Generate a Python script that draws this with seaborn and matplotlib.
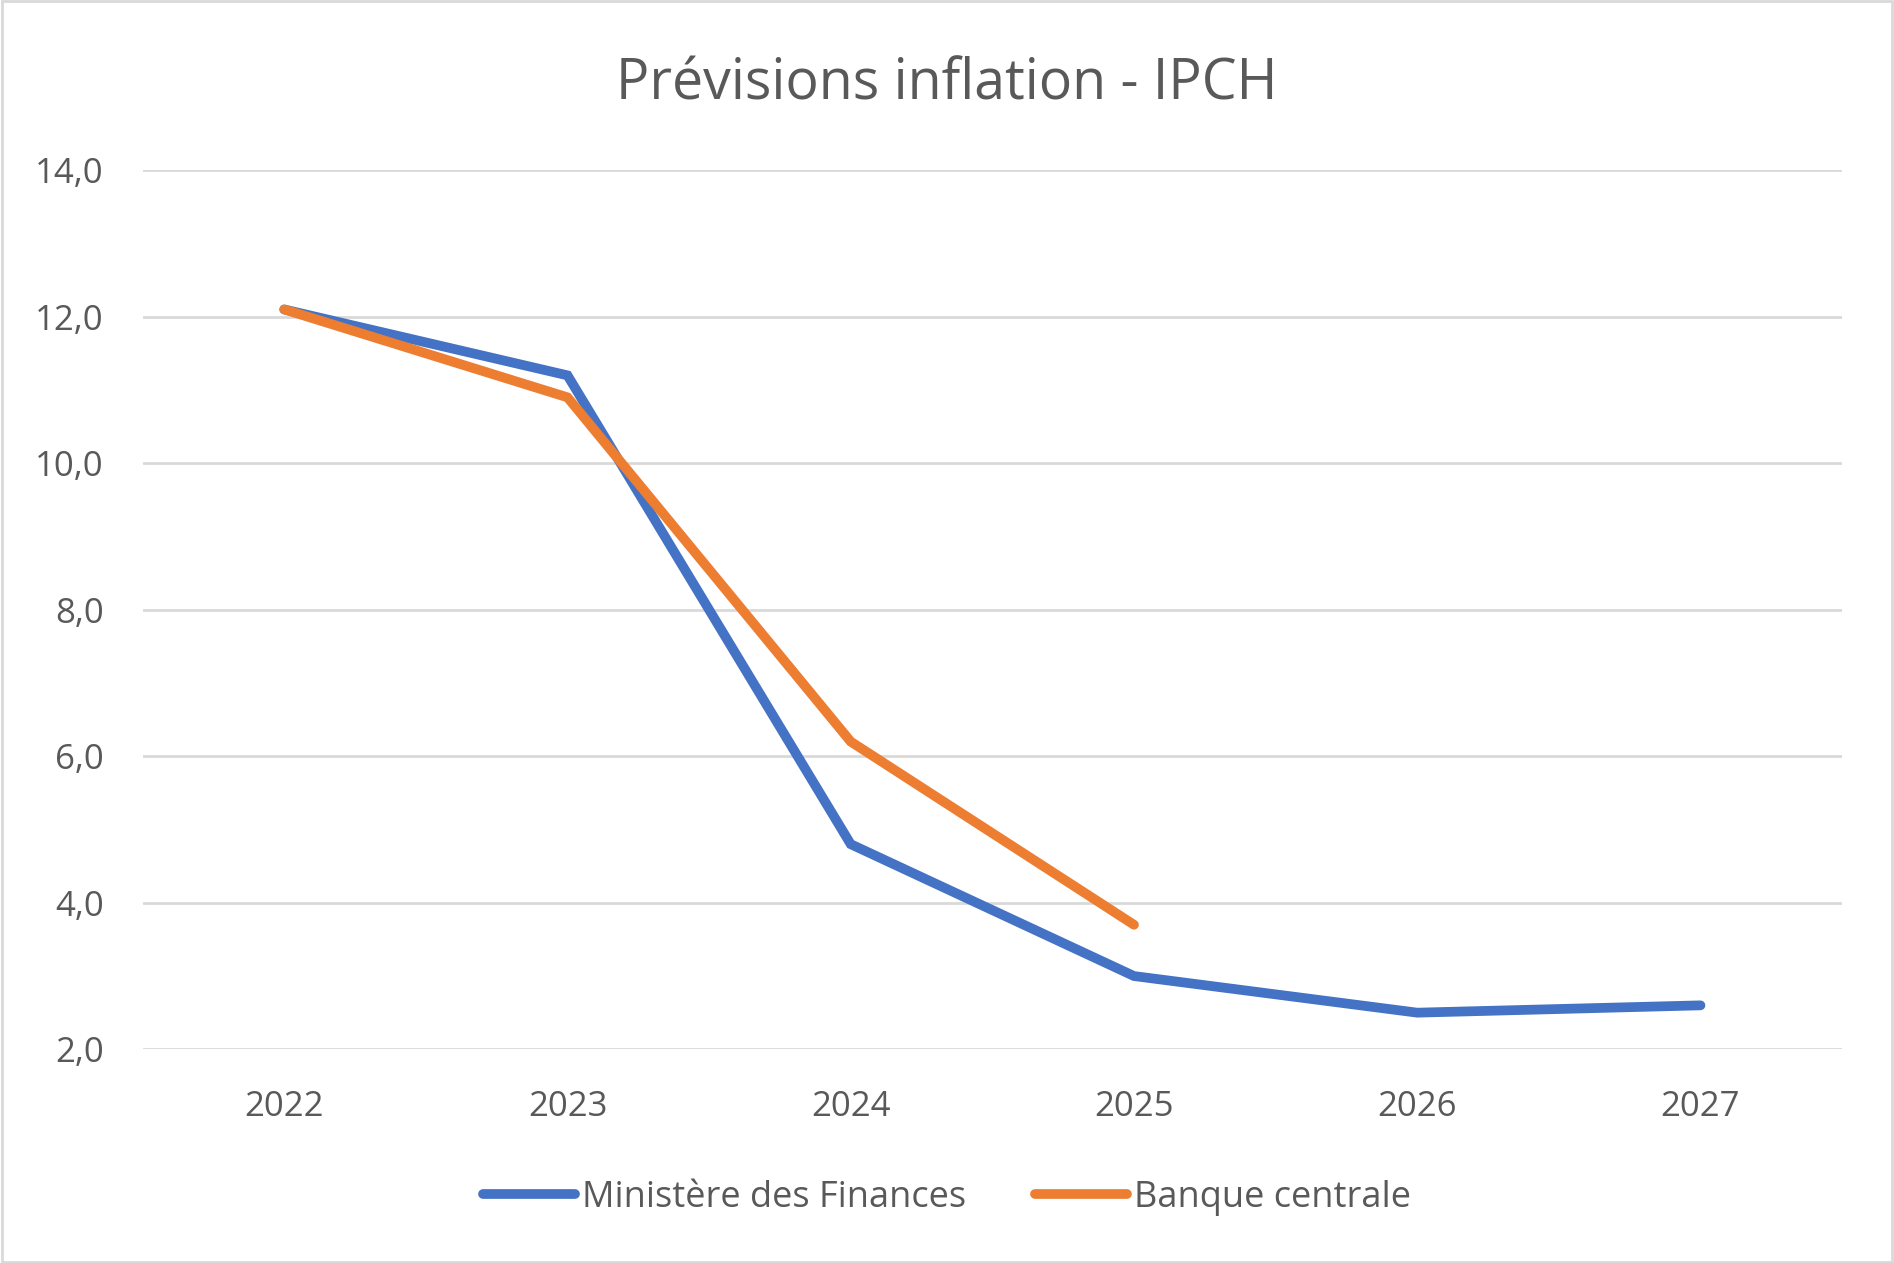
import numpy as np
import pandas as pd
import matplotlib.pyplot as plt
import seaborn as sns
from matplotlib.ticker import FuncFormatter

years = [2022, 2023, 2024, 2025, 2026, 2027]
ministere = [12.1, 11.2, 4.8, 3.0, 2.5, 2.6]
banque_years = [2022, 2023, 2024, 2025]
banque = [12.1, 10.9, 6.2, 3.7]
series_names = ["Ministère des Finances", "Banque centrale"]
colors = ["#4472C4", "#ED7D31"]


def main() -> None:
    df = pd.concat([
        pd.DataFrame({"annee": years, "valeur": ministere, "serie": series_names[0]}),
        pd.DataFrame({"annee": banque_years, "valeur": banque, "serie": series_names[1]}),
    ], ignore_index=True)

    sns.set_theme(style="white")
    plt.rcParams["font.family"] = ["Open Sans", "DejaVu Sans"]
    text_col = "#595959"

    fig = plt.figure(figsize=(18.94, 12.63), dpi=100)
    ax = fig.add_axes([0.0753, 0.1692, 0.8973, 0.696])

    sns.lineplot(
        data=df, x="annee", y="valeur", hue="serie",
        palette=dict(zip(series_names, colors)),
        linewidth=7, ax=ax, solid_capstyle="round", solid_joinstyle="miter",
        legend=True,
    )

    ax.set_xlim(2021.5, 2027.5)
    ax.set_ylim(2, 14)
    ax.set_yticks(np.arange(2, 15, 2))
    ax.set_xticks(years)
    ax.yaxis.set_major_formatter(FuncFormatter(lambda v, p: f"{v:.1f}".replace(".", ",")))
    ax.grid(axis="y", color="#D9D9D9", linewidth=2)
    ax.set_axisbelow(True)
    for s in ax.spines.values():
        s.set_visible(False)
    ax.tick_params(axis="both", length=0, labelsize=25, colors=text_col)
    ax.tick_params(axis="y", pad=28)
    ax.tick_params(axis="x", pad=29)
    ax.set_xlabel("")
    ax.set_ylabel("")

    fig.text(0.5, 0.933, "Prévisions inflation - IPCH", ha="center", va="center",
             fontsize=40, color=text_col)

    handles, labels = ax.get_legend_handles_labels()
    ax.legend(handles, labels, loc="center", bbox_to_anchor=(0.5, 0.0515),
              bbox_transform=fig.transFigure, ncol=2, frameon=False,
              fontsize=26, labelcolor=text_col, handlelength=2.55,
              handletextpad=0.2, columnspacing=1.9)

    fig.patches.append(plt.Rectangle((0.001, 0.001), 0.998, 0.998, transform=fig.transFigure,
                                     fill=False, edgecolor="#D9D9D9", linewidth=2))

    fig.savefig("out.png", dpi=100)


if __name__ == "__main__":
    main()
